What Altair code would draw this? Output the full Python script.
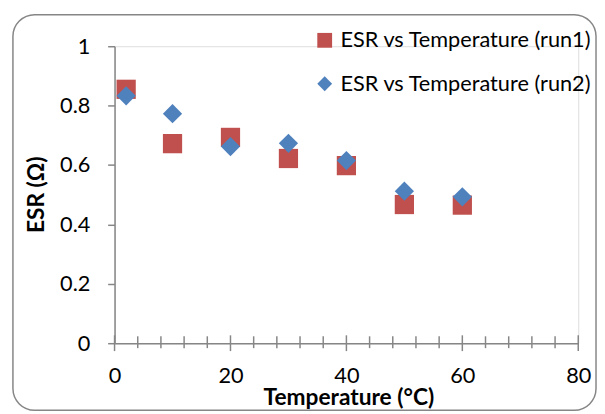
import altair as alt
import pandas as pd

temps = [2, 10, 20, 30, 40, 50, 60]
esr_run1 = [0.855, 0.672, 0.693, 0.622, 0.598, 0.467, 0.465]
esr_run2 = [0.833, 0.773, 0.662, 0.673, 0.615, 0.512, 0.493]
series_names = ["ESR vs Temperature (run1)", "ESR vs Temperature (run2)"]
series_colors = ["#C0504D", "#4F81BD"]
series_shapes = ["square", "diamond"]
x_major_ticks = [0, 20, 40, 60, 80]
x_minor_ticks = [4, 8, 12, 16, 24, 28, 32, 36, 44, 48, 52, 56, 64, 68, 72, 76]
y_ticks = [0, 0.2, 0.4, 0.6, 0.8, 1.0]

GRAY = "#868686"
FONT = "Lato"
W, H = 470, 301

rows = []
for name, vals in zip(series_names, [esr_run1, esr_run2]):
    for t, v in zip(temps, vals):
        rows.append({"series": name, "temp": t, "esr": v})
df = pd.DataFrame(rows)

xscale = alt.Scale(domain=[0, 80], nice=False, zero=False)
yscale = alt.Scale(domain=[0, 1], nice=False)

points = alt.Chart(df).mark_point(filled=True, opacity=1, strokeWidth=0, size=380).encode(
    x=alt.X("temp:Q", scale=xscale, axis=alt.Axis(
        values=x_major_ticks, ticks=False, grid=False, domainColor=GRAY, domainWidth=1.5,
        labelFont=FONT, labelFontSize=22, labelColor="black", labelPadding=23,
        labelBaseline="top", labelFlush=False,
        title="Temperature (°C)", titleFont=FONT, titleFontSize=23, titleFontWeight="bold",
        titleColor="black", titleX=W / 2 + 2, titleY=62, titleBaseline="alphabetic",
        titleAlign="center")),
    y=alt.Y("esr:Q", scale=yscale, axis=alt.Axis(
        values=y_ticks, format=".1~f", ticks=True, tickSize=7, tickColor=GRAY, tickWidth=1.5,
        grid=False, domainColor=GRAY, domainWidth=1.5,
        labelFont=FONT, labelFontSize=22, labelColor="black", labelPadding=18,
        title="ESR (Ω)", titleFont=FONT, titleFontSize=23, titleFontWeight="bold",
        titleColor="black", titleAngle=270, titleX=-79, titleY=150,
        titleAlign="center", titleBaseline="middle")),
    color=alt.Color("series:N", scale=alt.Scale(domain=series_names, range=series_colors),
                    legend=alt.Legend(orient="none", legendX=202, legendY=-17, title=None,
                                      labelFont=FONT, labelFontSize=22, labelColor="black",
                                      symbolSize=225, rowPadding=22, labelOffset=5,
                                      symbolStrokeWidth=0, padding=0, labelLimit=400)),
    shape=alt.Shape("series:N", scale=alt.Scale(domain=series_names, range=series_shapes)),
)

major_df = pd.DataFrame({"t": x_major_ticks})
minor_df = pd.DataFrame({"t": x_minor_ticks})

major_ticks = alt.Chart(major_df).mark_rule(color=GRAY, strokeWidth=1.5).encode(
    x=alt.X("t:Q", scale=xscale), y=alt.value(H - 8), y2=alt.value(H + 8))
minor_ticks = alt.Chart(minor_df).mark_rule(color=GRAY, strokeWidth=1.5).encode(
    x=alt.X("t:Q", scale=xscale), y=alt.value(H - 7), y2=alt.value(H + 5))

border = alt.Chart(pd.DataFrame({"a": [0]})).mark_rect(
    fill="white", fillOpacity=0, stroke=GRAY, strokeWidth=1.5, cornerRadius=22
).encode(x=alt.value(-103), x2=alt.value(488), y=alt.value(-32), y2=alt.value(369))

chart = alt.layer(border, minor_ticks, major_ticks, points).properties(
    width=W, height=H,
    autosize=alt.AutoSizeParams(type="none"),
    padding={"left": 108, "top": 36, "right": 19, "bottom": 69},
).configure_view(strokeWidth=0).configure(background="white")

chart.save("out.html", embed_options={"renderer": "svg", "actions": False})
